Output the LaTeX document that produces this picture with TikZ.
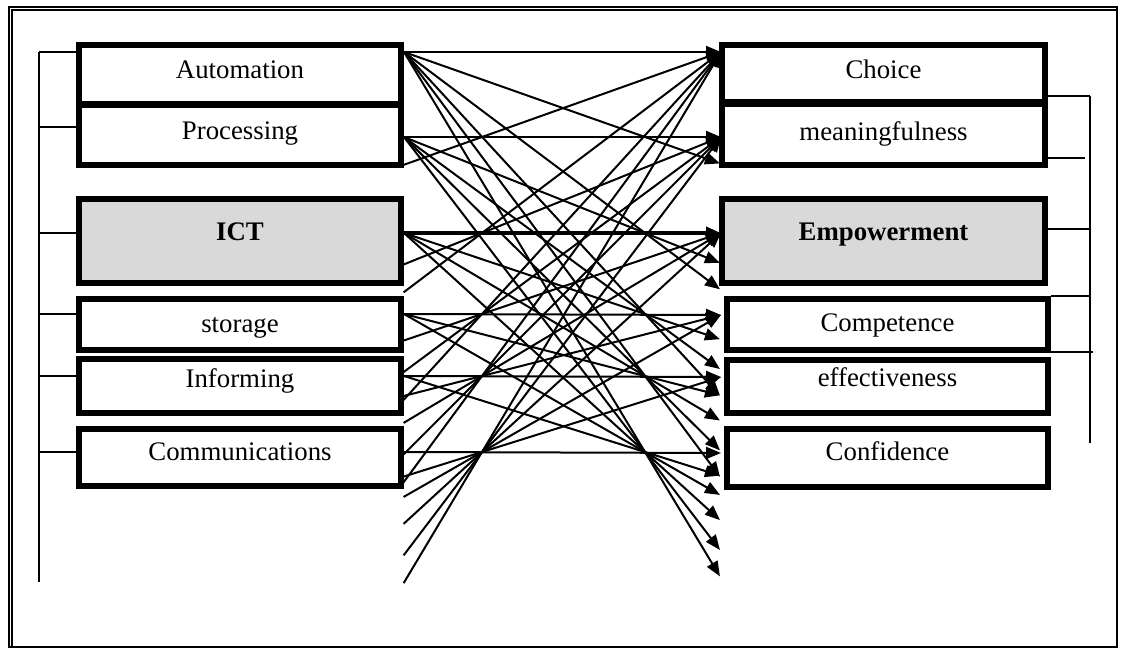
\documentclass[tikz,border=0pt]{standalone}
\usepackage{fontspec}
\setmainfont{Liberation Serif}
\usetikzlibrary{arrows.meta,calc}
\tikzset{
  box/.style={draw, line width=2.6pt, fill=white, minimum width=161pt, inner sep=0pt,
    text height=9pt, font=\fontsize{13.4}{15}\selectfont},
  keybox/.style={box, fill=gray!30, font=\fontsize{13.4}{15}\selectfont\bfseries},
  bus/.style={line width=0.75pt},
  arr/.style={line width=1pt, -{Triangle[length=7.5pt,width=6pt]}},
}
\begin{document}
\begin{tikzpicture}[x=0.5pt,y=-0.5pt]
\useasboundingbox (0,0) rectangle (1121,649);
% frame
\draw[line width=0.6pt] (9,7) rectangle (1117,647);
\draw[line width=0.6pt] (12,647) -- (12,10) -- (1117,10);

% left column
\node[box, minimum height=29.5pt, text depth=5pt] (auto) at (240,74.5) {Automation};
\node[box, minimum height=30pt, text depth=5pt] (proc) at (240,135) {Processing};
\node[keybox, minimum height=42pt, text depth=10pt] (ict) at (240,241) {ICT};
\node[box, minimum height=25.5pt, text depth=1pt] (stor) at (240,324.5) {storage};
\node[box, minimum height=27pt, text depth=8pt] (inform) at (240,386) {Informing};
\node[box, minimum height=28.5pt, text depth=6.5pt] (comm) at (240,457.5) {Communications};

% right column
\node[box, minimum width=161.5pt, minimum height=28.5pt, text depth=4pt] (choice) at (883.5,73.5) {Choice};
\node[box, minimum width=161.5pt, minimum height=30.5pt, text depth=3.5pt] (mean) at (883.5,134.5) {meaningfulness};
\node[keybox, minimum width=161.5pt, minimum height=42pt, text depth=10pt] (emp) at (883.5,241) {Empowerment};
\node[box, minimum width=160.5pt, minimum height=25.5pt, text depth=2.5pt] (comp) at (887.5,324.5) {Competence};
\node[box, minimum width=160.5pt, minimum height=26.5pt, text depth=9.5pt] (effect) at (887.5,386.5) {effectiveness};
\node[box, minimum width=160.5pt, minimum height=29pt, text depth=7pt] (conf) at (887.5,458) {Confidence};

% left bracket
\coordinate (ltop) at (39,52);
\coordinate (lbot) at (39,582);
\draw[bus] (ltop) -- (lbot);
\foreach \n/\y in {auto/52,proc/127,ict/233,stor/314,comm/452}
  \draw[bus] (39,\y) -- (\n.west |- 0,\y);
\draw[bus] (39,376) -- ($(inform.west |- 0,376)+(4,0)$);

% right bracket
\coordinate (rtop) at (1090,96);
\coordinate (rbot) at (1090,443);
\draw[bus] (rtop) -- (rbot);
\draw[bus] (choice.east |- 0,96) -- (rtop);
\draw[bus] (mean.east |- 0,158) -- (1085,158);
\draw[bus] (emp.east |- 0,229) -- (1090,229);
\draw[bus] (comp.east |- 0,296) -- (1090,296);
\draw[bus] (comp.east |- 0,352) -- (1093,352);

% level points
\foreach \n/\y in {1/52,2/137,3/233,4/314,5/376,6/452}{
  \coordinate (l\n) at (404,\y);
  \coordinate (m\n) at (645,\y);
  \coordinate (q\n) at (482,\y);
}
\foreach \n/\y in {1/52,2/137,3/233,4/315,5/377,6/453}
  \coordinate (r\n) at (721,\y);

% straight links
\foreach \n in {1,2,4,5,6}
  \draw[arr] (l\n) -- (r\n);
\draw[arr, line width=2pt] (l3) -- (r3);

% crossing links
\foreach \i in {1,...,5}{
  \pgfmathtruncatemacro\k{\i+1}
  \foreach \j in {\k,...,6}{
    \draw[arr] (l\i) -- ($(l\i)!1.311!(m\j)$);
    \draw[arr] ($(r\i)!1.328!(q\j)$) -- (r\i);
  }
}
\end{tikzpicture}
\end{document}
